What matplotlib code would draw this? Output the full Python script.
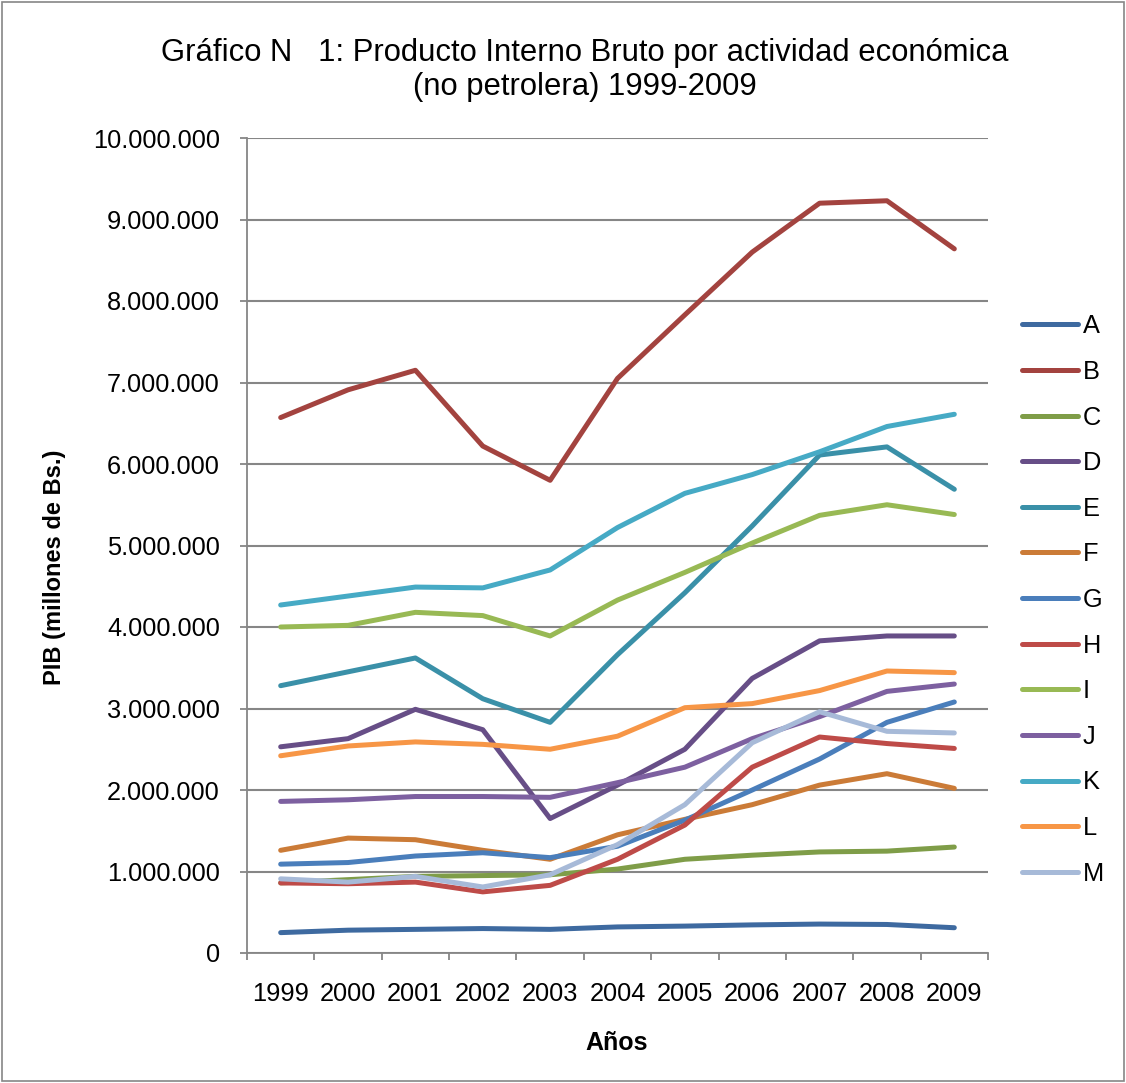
import matplotlib
matplotlib.use('Agg')
import matplotlib.pyplot as plt
from matplotlib.patches import Rectangle
from matplotlib.ticker import FuncFormatter, FixedLocator

plt.rcParams['font.family'] = ['Liberation Sans', 'DejaVu Sans']

years = ['1999', '2000', '2001', '2002', '2003', '2004', '2005', '2006', '2007', '2008', '2009']

# valores en millones
A = [0.25, 0.28, 0.29, 0.30, 0.29, 0.32, 0.33, 0.345, 0.355, 0.35, 0.31]
B = [6.57, 6.91, 7.15, 6.22, 5.80, 7.05, 7.83, 8.60, 9.20, 9.23, 8.64]
C = [0.86, 0.90, 0.94, 0.95, 0.96, 1.03, 1.15, 1.20, 1.24, 1.25, 1.30]
D = [2.53, 2.63, 2.99, 2.74, 1.65, 2.06, 2.50, 3.37, 3.83, 3.89, 3.89]
E = [3.28, 3.45, 3.62, 3.12, 2.83, 3.66, 4.42, 5.24, 6.11, 6.21, 5.69]
F = [1.26, 1.41, 1.39, 1.26, 1.15, 1.45, 1.64, 1.82, 2.06, 2.20, 2.02]
G = [1.09, 1.11, 1.19, 1.23, 1.17, 1.31, 1.63, 2.00, 2.38, 2.83, 3.08]
H = [0.86, 0.85, 0.87, 0.75, 0.83, 1.15, 1.57, 2.28, 2.65, 2.57, 2.51]
I = [4.00, 4.02, 4.18, 4.14, 3.89, 4.33, 4.67, 5.03, 5.37, 5.50, 5.38]
J = [1.86, 1.88, 1.92, 1.92, 1.91, 2.09, 2.28, 2.63, 2.90, 3.21, 3.30]
K = [4.27, 4.38, 4.49, 4.48, 4.70, 5.22, 5.64, 5.87, 6.15, 6.46, 6.61]
L = [2.42, 2.54, 2.59, 2.56, 2.50, 2.66, 3.01, 3.06, 3.22, 3.46, 3.44]
M = [0.91, 0.87, 0.94, 0.81, 0.96, 1.33, 1.82, 2.58, 2.96, 2.72, 2.70]

names = ['A', 'B', 'C', 'D', 'E', 'F', 'G', 'H', 'I', 'J', 'K', 'L', 'M']
series = [A, B, C, D, E, F, G, H, I, J, K, L, M]
colors = ['#3E6AA0', '#A3433F', '#7F9D48', '#674E87', '#3A90A8', '#CB7B37',
          '#4A7EBB', '#BE4B48', '#98B954', '#7D60A0', '#46AAC5', '#F79646', '#A7BAD8']

fs = 18.3

fig = plt.figure(figsize=(11.26, 10.83), dpi=100)
ax = fig.add_axes([247 / 1126, 1 - 953 / 1083, (988 - 247) / 1126, (953 - 138) / 1083])

x = list(range(len(years)))
for name, vals, col in zip(names, series, colors):
    ax.plot(x, [v * 1e6 for v in vals], color=col, lw=3.6, label=name,
            solid_capstyle='round', solid_joinstyle='round')

ax.set_xlim(-0.5, 10.5)
ax.set_ylim(0, 10e6)
ax.set_yticks([i * 1e6 for i in range(11)])
ax.yaxis.set_major_formatter(FuncFormatter(lambda v, p: f"{v:,.0f}".replace(',', '.')))
ax.grid(axis='y', color='#868686', lw=1.5)
ax.set_axisbelow(True)

ax.set_xticks(x)
ax.set_xticklabels(years)
ax.xaxis.set_minor_locator(FixedLocator([i - 0.5 for i in range(12)]))
ax.tick_params(axis='x', which='major', length=0, pad=21, labelsize=fs)
ax.tick_params(axis='x', which='minor', length=5, width=1.3, color='#868686')
ax.tick_params(axis='y', length=5, width=1.3, color='#868686', pad=14.5, labelsize=fs)

for s in ['top', 'right']:
    ax.spines[s].set_visible(False)
for s in ['left', 'bottom']:
    ax.spines[s].set_color('#868686')
    ax.spines[s].set_linewidth(1.3)

fig.text(0.519, 1 - 70 / 1083, 'Gráfico N   1: Producto Interno Bruto por actividad económica\n(no petrolera) 1999-2009',
         ha='center', va='center', fontsize=22.3, linespacing=1.18)
fig.text(55 / 1126, 1 - 567 / 1083, 'PIB (millones de Bs.)', rotation=90, ha='center', va='center',
         fontsize=17, fontweight='bold')
fig.text(617 / 1126, 1 - 1043 / 1083, 'Años', ha='center', va='center', fontsize=18, fontweight='bold')

ax.legend(loc='center left', bbox_to_anchor=(1022 / 1126, 1 - 600 / 1083), bbox_transform=fig.transFigure,
          frameon=False, fontsize=fs, handlelength=2.2, handletextpad=0.2, labelspacing=0.85,
          borderaxespad=0, borderpad=0)

fig.add_artist(Rectangle((2 / 1126, 2 / 1083), 1 - 4 / 1126, 1 - 4 / 1083, transform=fig.transFigure,
                         fill=False, edgecolor='#868686', lw=1.2))

fig.savefig('out.png', dpi=100)
